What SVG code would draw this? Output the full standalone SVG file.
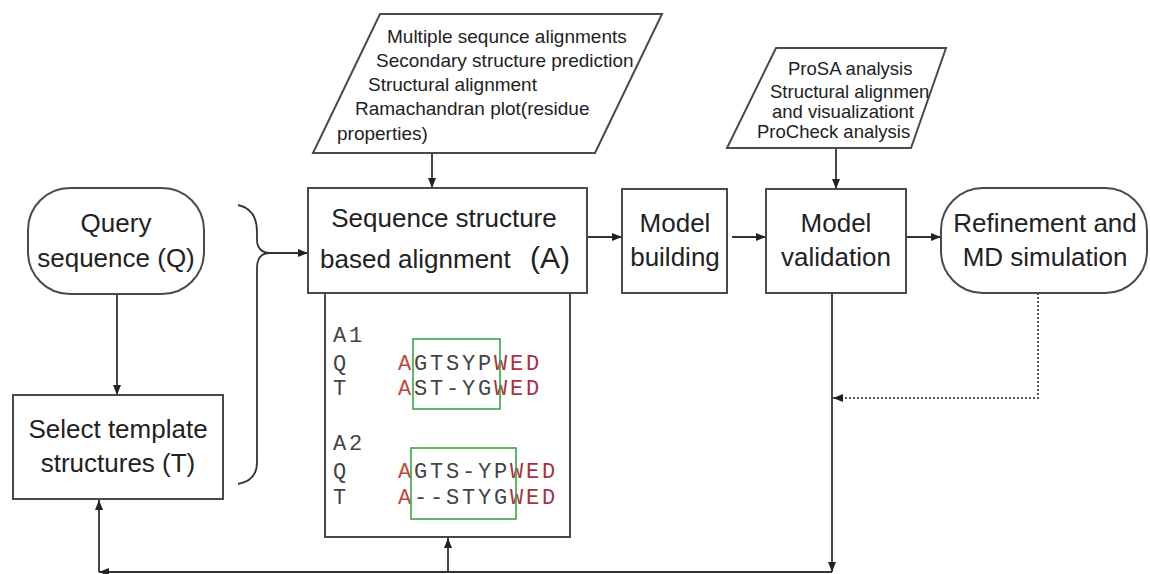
<svg xmlns="http://www.w3.org/2000/svg" width="1150" height="574" viewBox="0 0 1150 574">
<defs>
<marker id="ah" markerUnits="userSpaceOnUse" markerWidth="11" markerHeight="8" refX="10" refY="4" orient="auto-start-reverse">
<path d="M0,0 L10,4 L0,8 z" fill="#222"/>
</marker>
<style>
.box{fill:#fff;stroke:#4a4a4a;stroke-width:2}
.t{font-family:"Liberation Sans",Arial,sans-serif;font-size:26px;fill:#222;text-anchor:middle}
.s{font-family:"Liberation Sans",Arial,sans-serif;font-size:19px;fill:#222}
.s2{font-family:"Liberation Sans",Arial,sans-serif;font-size:18.5px;fill:#222}
.m{font-family:"Liberation Mono","Courier New",monospace;font-size:22px;letter-spacing:2.8px;fill:#444}
.r{fill:#c4463f}
.w{fill:#a83240}
.g{fill:#444}
.c{fill:none;stroke:#333;stroke-width:1.8}
.cm{fill:none;stroke:#333;stroke-width:1.8;marker-end:url(#ah)}
.gb{fill:none;stroke:#3aa640;stroke-width:1.6}
</style>
</defs>
<rect width="1150" height="574" fill="#fff"/>

<g id="connectors">
<path class="cm" d="M117,294 L117,395"/>
<path class="c" d="M238,205 C252,208 257,218 257,232 L257,240 C257,248 262,253 270,253 C262,253 257,258 257,268 L257,462 C257,475 250,482 238,484"/>
<path class="cm" d="M270,253 L308,253"/>
<path class="cm" d="M432,153 L432,188"/>
<path class="cm" d="M587,237 L622,237"/>
<path class="cm" d="M732,237 L766,237"/>
<path class="cm" d="M906,237 L941,237"/>
<path class="cm" d="M836,148 L836,189"/>
<path class="cm" d="M832,293 L832,572"/>
<path class="cm" d="M832,572 L99,572"/>
<path class="cm" d="M99,572 L99,500"/>
<path class="cm" d="M448,572 L448,538"/>
<path fill="none" stroke="#555" stroke-width="2" stroke-dasharray="2,2" marker-end="url(#ah)" d="M1038,293 L1038,398 L833,398"/>
<path class="cm" style="marker-start:url(#ah)" d="M455,417 L455,449"/>
</g>

<g id="query">
<rect class="box" x="28" y="188" width="176" height="106" rx="42" ry="42"/>
<text class="t" x="116" y="232">Query</text>
<text class="t" x="116" y="267">sequence (Q)</text>
</g>

<g id="select">
<rect class="box" x="13" y="395" width="210" height="104"/>
<text class="t" x="118" y="438">Select template</text>
<text class="t" x="118" y="472">structures (T)</text>
</g>

<g id="inputs1">
<polygon class="box" points="380,14 662,14 595,153 313,153"/>
<text class="s" x="387" y="43">Multiple sequnce alignments</text>
<text class="s" x="376" y="67">Secondary structure prediction</text>
<text class="s" x="368" y="91">Structural alignment</text>
<text class="s" x="355" y="115">Ramachandran plot(residue</text>
<text class="s" x="337" y="140">properties)</text>
</g>

<g id="alignment">
<rect class="box" x="308" y="188" width="279" height="105"/>
<text class="t" x="444" y="227">Sequence structure</text>
<text class="t" x="320" y="268" style="text-anchor:start">based alignment <tspan dx="12" font-size="30">(A)</tspan></text>
</g>

<g id="alignment-detail">
<rect class="box" x="325" y="293" width="245" height="244"/>
<text class="m" x="333" y="342">A1</text>
<text class="m" x="333" y="370">Q</text>
<text class="m" x="333" y="395">T</text>
<text class="m" x="398" y="370"><tspan class="r">A</tspan><tspan class="g">GTSYP</tspan><tspan class="w">WED</tspan></text>
<text class="m" x="398" y="395"><tspan class="r">A</tspan><tspan class="g">ST-YG</tspan><tspan class="w">WED</tspan></text>
<rect class="gb" x="413" y="339" width="87" height="70"/>
<text class="m" x="333" y="450">A2</text>
<text class="m" x="333" y="478">Q</text>
<text class="m" x="333" y="504">T</text>
<text class="m" x="398" y="478"><tspan class="r">A</tspan><tspan class="g">GTS-YP</tspan><tspan class="w">WED</tspan></text>
<text class="m" x="398" y="504"><tspan class="r">A</tspan><tspan class="g">--STYG</tspan><tspan class="w">WED</tspan></text>
<rect class="gb" x="411" y="448" width="105" height="71"/>
</g>

<g id="model-building">
<rect class="box" x="622" y="189" width="105" height="104"/>
<text class="t" x="675" y="232">Model</text>
<text class="t" x="675" y="266">building</text>
</g>

<g id="inputs2">
<polygon class="box" points="776,48 946,48 911,148 727,148"/>
<text class="s2" x="788" y="75">ProSA analysis</text>
<text class="s2" x="770" y="98">Structural alignmen</text>
<text class="s2" x="772" y="118">and visualizationt</text>
<text class="s2" x="757" y="138">ProCheck analysis</text>
</g>

<g id="model-validation">
<rect class="box" x="766" y="189" width="140" height="104"/>
<text class="t" x="836" y="232">Model</text>
<text class="t" x="836" y="266">validation</text>
</g>

<g id="refinement">
<rect class="box" x="941" y="188" width="206" height="105" rx="42" ry="42"/>
<text class="t" x="1045" y="232">Refinement and</text>
<text class="t" x="1045" y="266">MD simulation</text>
</g>
</svg>
